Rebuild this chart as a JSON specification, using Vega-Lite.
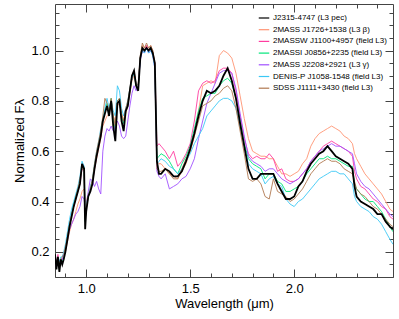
{
"$schema":"https://vega.github.io/schema/vega-lite/v6.json",
"width":338,"height":273,
"autosize":{"type":"none"},
"padding":{"left":55,"top":4,"right":6,"bottom":42},
"background":"white",
"config":{"view":{"stroke":"#444","strokeWidth":1},"font":"Liberation Sans"},
"data":{"values":[
{"w":0.85,"a":0.19,"b":0.17,"c":0.18,"d":0.18,"e":0.16,"f":0.17,"g":0.17},
{"w":0.857,"a":0.13,"b":0.15,"c":0.16,"d":0.15,"e":0.14,"f":0.15,"g":0.15},
{"w":0.864,"a":0.18,"b":0.18,"c":0.19,"d":0.17,"e":0.16,"f":0.18,"g":0.18},
{"w":0.871,"a":0.12,"b":0.16,"c":0.15,"d":0.14,"e":0.15,"f":0.16,"g":0.15},
{"w":0.878,"a":0.17,"b":0.17,"c":0.17,"d":0.17,"e":0.16,"f":0.18,"g":0.17},
{"w":0.885,"a":0.15,"b":0.17,"c":0.17,"d":0.16,"e":0.17,"f":0.18,"g":0.18},
{"w":0.892,"a":0.17,"b":0.18,"c":0.18,"d":0.18,"e":0.19,"f":0.2,"g":0.19},
{"w":0.9,"a":0.2,"b":0.2,"c":0.21,"d":0.21,"e":0.21,"f":0.23,"g":0.22},
{"w":0.91,"a":0.25,"b":0.24,"c":0.26,"d":0.26,"e":0.25,"f":0.28,"g":0.26},
{"w":0.92,"a":0.3,"b":0.28,"c":0.31,"d":0.31,"e":0.29,"f":0.33,"g":0.31},
{"w":0.93,"a":0.34,"b":0.31,"c":0.35,"d":0.35,"e":0.31,"f":0.37,"g":0.35},
{"w":0.94,"a":0.38,"b":0.33,"c":0.38,"d":0.39,"e":0.33,"f":0.4,"g":0.38},
{"w":0.95,"a":0.41,"b":0.36,"c":0.41,"d":0.42,"e":0.35,"f":0.43,"g":0.42},
{"w":0.96,"a":0.44,"b":0.39,"c":0.44,"d":0.45,"e":0.36,"f":0.46,"g":0.45},
{"w":0.97,"a":0.47,"b":0.41,"c":0.47,"d":0.48,"e":0.38,"f":0.5,"g":0.49},
{"w":0.98,"a":0.55,"b":0.44,"c":0.53,"d":0.54,"e":0.42,"f":0.56,"g":0.54},
{"w":0.99,"a":0.53,"b":0.45,"c":0.52,"d":0.52,"e":0.41,"f":0.54,"g":0.52},
{"w":0.995,"a":0.29,"b":0.4,"c":0.33,"d":0.32,"e":0.37,"f":0.35,"g":0.35},
{"w":1.0,"a":0.36,"b":0.4,"c":0.37,"d":0.37,"e":0.38,"f":0.39,"g":0.38},
{"w":1.01,"a":0.42,"b":0.43,"c":0.42,"d":0.42,"e":0.44,"f":0.42,"g":0.42},
{"w":1.02,"a":0.44,"b":0.46,"c":0.45,"d":0.45,"e":0.49,"f":0.46,"g":0.45},
{"w":1.03,"a":0.47,"b":0.48,"c":0.47,"d":0.48,"e":0.48,"f":0.49,"g":0.49},
{"w":1.04,"a":0.53,"b":0.53,"c":0.53,"d":0.54,"e":0.46,"f":0.55,"g":0.55},
{"w":1.05,"a":0.58,"b":0.57,"c":0.58,"d":0.59,"e":0.48,"f":0.6,"g":0.6},
{"w":1.06,"a":0.62,"b":0.61,"c":0.62,"d":0.63,"e":0.45,"f":0.64,"g":0.64},
{"w":1.07,"a":0.66,"b":0.65,"c":0.66,"d":0.67,"e":0.43,"f":0.69,"g":0.68},
{"w":1.08,"a":0.72,"b":0.7,"c":0.72,"d":0.72,"e":0.6,"f":0.73,"g":0.74},
{"w":1.09,"a":0.75,"b":0.72,"c":0.76,"d":0.76,"e":0.66,"f":0.77,"g":0.81},
{"w":1.1,"a":0.78,"b":0.74,"c":0.78,"d":0.79,"e":0.69,"f":0.81,"g":0.79},
{"w":1.11,"a":0.74,"b":0.75,"c":0.75,"d":0.76,"e":0.68,"f":0.77,"g":0.76},
{"w":1.12,"a":0.8,"b":0.78,"c":0.8,"d":0.81,"e":0.7,"f":0.8,"g":0.81},
{"w":1.13,"a":0.7,"b":0.74,"c":0.73,"d":0.73,"e":0.68,"f":0.76,"g":0.74},
{"w":1.14,"a":0.64,"b":0.72,"c":0.69,"d":0.68,"e":0.7,"f":0.74,"g":0.7},
{"w":1.15,"a":0.79,"b":0.78,"c":0.8,"d":0.8,"e":0.72,"f":0.86,"g":0.8},
{"w":1.16,"a":0.8,"b":0.79,"c":0.81,"d":0.81,"e":0.7,"f":0.84,"g":0.81},
{"w":1.17,"a":0.72,"b":0.75,"c":0.74,"d":0.74,"e":0.66,"f":0.77,"g":0.75},
{"w":1.18,"a":0.68,"b":0.72,"c":0.71,"d":0.71,"e":0.65,"f":0.74,"g":0.72},
{"w":1.19,"a":0.76,"b":0.75,"c":0.76,"d":0.76,"e":0.66,"f":0.77,"g":0.77},
{"w":1.2,"a":0.78,"b":0.78,"c":0.79,"d":0.79,"e":0.72,"f":0.8,"g":0.8},
{"w":1.21,"a":0.84,"b":0.83,"c":0.84,"d":0.84,"e":0.78,"f":0.85,"g":0.85},
{"w":1.22,"a":0.9,"b":0.88,"c":0.89,"d":0.89,"e":0.83,"f":0.89,"g":0.9},
{"w":1.23,"a":0.92,"b":0.9,"c":0.91,"d":0.91,"e":0.86,"f":0.91,"g":0.92},
{"w":1.24,"a":0.86,"b":0.86,"c":0.86,"d":0.86,"e":0.84,"f":0.87,"g":0.87},
{"w":1.25,"a":0.84,"b":0.87,"c":0.85,"d":0.85,"e":0.86,"f":0.86,"g":0.86},
{"w":1.26,"a":0.97,"b":0.97,"c":0.97,"d":0.97,"e":0.96,"f":0.97,"g":0.98},
{"w":1.27,"a":1.01,"b":1.02,"c":1.01,"d":1.01,"e":1.0,"f":1.0,"g":1.03},
{"w":1.28,"a":1.0,"b":1.01,"c":1.0,"d":1.0,"e":0.99,"f":0.99,"g":1.01},
{"w":1.29,"a":1.01,"b":1.02,"c":1.02,"d":1.01,"e":1.01,"f":1.01,"g":1.03},
{"w":1.3,"a":1.0,"b":1.01,"c":1.0,"d":1.0,"e":0.99,"f":0.99,"g":1.01},
{"w":1.31,"a":1.01,"b":1.02,"c":1.01,"d":1.01,"e":1.0,"f":1.0,"g":1.02},
{"w":1.32,"a":0.99,"b":1.0,"c":0.99,"d":0.99,"e":0.98,"f":0.98,"g":1.0},
{"w":1.33,"a":0.95,"b":0.95,"c":0.95,"d":0.94,"e":0.93,"f":0.93,"g":0.94},
{"w":1.34,"a":0.56,"b":0.56,"c":0.62,"d":0.57,"e":0.52,"f":0.55,"g":0.53},
{"w":1.35,"a":0.51,"b":0.55,"c":0.63,"d":0.58,"e":0.5,"f":0.56,"g":0.52},
{"w":1.36,"a":0.51,"b":0.55,"c":0.62,"d":0.59,"e":0.49,"f":0.57,"g":0.52},
{"w":1.38,"a":0.53,"b":0.53,"c":0.6,"d":0.58,"e":0.51,"f":0.56,"g":0.53},
{"w":1.4,"a":0.52,"b":0.51,"c":0.57,"d":0.56,"e":0.45,"f":0.54,"g":0.51},
{"w":1.42,"a":0.5,"b":0.5,"c":0.6,"d":0.53,"e":0.46,"f":0.53,"g":0.49},
{"w":1.44,"a":0.5,"b":0.49,"c":0.54,"d":0.51,"e":0.47,"f":0.51,"g":0.49},
{"w":1.46,"a":0.52,"b":0.52,"c":0.56,"d":0.55,"e":0.49,"f":0.53,"g":0.53},
{"w":1.48,"a":0.56,"b":0.55,"c":0.59,"d":0.58,"e":0.5,"f":0.56,"g":0.57},
{"w":1.5,"a":0.61,"b":0.6,"c":0.63,"d":0.62,"e":0.53,"f":0.59,"g":0.6},
{"w":1.52,"a":0.67,"b":0.66,"c":0.72,"d":0.69,"e":0.57,"f":0.63,"g":0.66},
{"w":1.54,"a":0.74,"b":0.76,"c":0.84,"d":0.76,"e":0.65,"f":0.66,"g":0.72},
{"w":1.56,"a":0.8,"b":0.86,"c":0.87,"d":0.81,"e":0.72,"f":0.69,"g":0.78},
{"w":1.58,"a":0.84,"b":0.87,"c":0.88,"d":0.82,"e":0.79,"f":0.74,"g":0.79},
{"w":1.6,"a":0.83,"b":0.88,"c":0.87,"d":0.83,"e":0.83,"f":0.76,"g":0.8},
{"w":1.62,"a":0.84,"b":0.87,"c":0.88,"d":0.83,"e":0.87,"f":0.78,"g":0.82},
{"w":1.64,"a":0.86,"b":0.98,"c":0.92,"d":0.86,"e":0.91,"f":0.8,"g":0.83},
{"w":1.66,"a":0.9,"b":1.0,"c":0.93,"d":0.88,"e":0.92,"f":0.81,"g":0.85},
{"w":1.68,"a":0.93,"b":0.99,"c":0.93,"d":0.89,"e":0.92,"f":0.81,"g":0.86},
{"w":1.7,"a":0.88,"b":0.97,"c":0.91,"d":0.87,"e":0.91,"f":0.8,"g":0.84},
{"w":1.72,"a":0.81,"b":0.91,"c":0.84,"d":0.81,"e":0.85,"f":0.77,"g":0.77},
{"w":1.74,"a":0.71,"b":0.82,"c":0.74,"d":0.72,"e":0.75,"f":0.7,"g":0.68},
{"w":1.76,"a":0.62,"b":0.73,"c":0.65,"d":0.63,"e":0.66,"f":0.62,"g":0.59},
{"w":1.78,"a":0.53,"b":0.65,"c":0.59,"d":0.57,"e":0.58,"f":0.55,"g":0.49},
{"w":1.8,"a":0.49,"b":0.6,"c":0.57,"d":0.55,"e":0.56,"f":0.53,"g":0.48},
{"w":1.82,"a":0.49,"b":0.59,"c":0.58,"d":0.54,"e":0.55,"f":0.52,"g":0.49},
{"w":1.84,"a":0.51,"b":0.58,"c":0.57,"d":0.53,"e":0.54,"f":0.51,"g":0.47},
{"w":1.86,"a":0.51,"b":0.58,"c":0.57,"d":0.49,"e":0.52,"f":0.47,"g":0.42},
{"w":1.88,"a":0.51,"b":0.57,"c":0.59,"d":0.51,"e":0.53,"f":0.49,"g":0.41},
{"w":1.9,"a":0.51,"b":0.57,"c":0.57,"d":0.51,"e":0.53,"f":0.5,"g":0.49},
{"w":1.92,"a":0.47,"b":0.54,"c":0.52,"d":0.48,"e":0.51,"f":0.47,"g":0.44},
{"w":1.94,"a":0.44,"b":0.51,"c":0.53,"d":0.47,"e":0.49,"f":0.46,"g":0.43},
{"w":1.96,"a":0.41,"b":0.51,"c":0.49,"d":0.44,"e":0.48,"f":0.41,"g":0.42},
{"w":1.98,"a":0.41,"b":0.5,"c":0.48,"d":0.44,"e":0.47,"f":0.39,"g":0.4},
{"w":2.0,"a":0.42,"b":0.51,"c":0.48,"d":0.45,"e":0.48,"f":0.38,"g":0.41},
{"w":2.02,"a":0.46,"b":0.52,"c":0.49,"d":0.46,"e":0.49,"f":0.4,"g":0.43},
{"w":2.04,"a":0.48,"b":0.55,"c":0.51,"d":0.48,"e":0.51,"f":0.41,"g":0.45},
{"w":2.06,"a":0.52,"b":0.57,"c":0.53,"d":0.51,"e":0.53,"f":0.43,"g":0.48},
{"w":2.08,"a":0.55,"b":0.62,"c":0.56,"d":0.53,"e":0.56,"f":0.45,"g":0.51},
{"w":2.1,"a":0.57,"b":0.65,"c":0.58,"d":0.55,"e":0.58,"f":0.47,"g":0.53},
{"w":2.12,"a":0.59,"b":0.67,"c":0.6,"d":0.57,"e":0.6,"f":0.49,"g":0.55},
{"w":2.14,"a":0.6,"b":0.68,"c":0.62,"d":0.57,"e":0.61,"f":0.5,"g":0.56},
{"w":2.16,"a":0.62,"b":0.69,"c":0.63,"d":0.58,"e":0.62,"f":0.51,"g":0.57},
{"w":2.18,"a":0.6,"b":0.7,"c":0.64,"d":0.57,"e":0.63,"f":0.52,"g":0.56},
{"w":2.2,"a":0.58,"b":0.69,"c":0.63,"d":0.57,"e":0.62,"f":0.52,"g":0.56},
{"w":2.22,"a":0.57,"b":0.68,"c":0.62,"d":0.56,"e":0.62,"f":0.51,"g":0.55},
{"w":2.24,"a":0.56,"b":0.66,"c":0.61,"d":0.55,"e":0.61,"f":0.51,"g":0.53},
{"w":2.26,"a":0.55,"b":0.65,"c":0.6,"d":0.54,"e":0.6,"f":0.49,"g":0.52},
{"w":2.28,"a":0.53,"b":0.63,"c":0.58,"d":0.54,"e":0.59,"f":0.47,"g":0.51},
{"w":2.29,"a":0.46,"b":0.59,"c":0.52,"d":0.47,"e":0.55,"f":0.42,"g":0.48},
{"w":2.3,"a":0.42,"b":0.57,"c":0.49,"d":0.45,"e":0.51,"f":0.4,"g":0.45},
{"w":2.32,"a":0.4,"b":0.54,"c":0.46,"d":0.43,"e":0.48,"f":0.38,"g":0.43},
{"w":2.34,"a":0.39,"b":0.51,"c":0.45,"d":0.41,"e":0.46,"f":0.37,"g":0.42},
{"w":2.36,"a":0.38,"b":0.49,"c":0.43,"d":0.4,"e":0.45,"f":0.36,"g":0.4},
{"w":2.38,"a":0.37,"b":0.47,"c":0.41,"d":0.4,"e":0.43,"f":0.34,"g":0.38},
{"w":2.4,"a":0.35,"b":0.45,"c":0.4,"d":0.38,"e":0.41,"f":0.33,"g":0.37},
{"w":2.42,"a":0.35,"b":0.43,"c":0.38,"d":0.36,"e":0.39,"f":0.31,"g":0.35},
{"w":2.44,"a":0.32,"b":0.4,"c":0.37,"d":0.33,"e":0.37,"f":0.28,"g":0.33},
{"w":2.46,"a":0.3,"b":0.37,"c":0.34,"d":0.3,"e":0.35,"f":0.25,"g":0.31},
{"w":2.475,"a":0.29,"b":0.36,"c":0.33,"d":0.28,"e":0.34,"f":0.23,"g":0.3}
]},
"transform":[
{"fold":["b","c","d","e","f","g","a"],"as":["key","flux"]},
{"lookup":"key","from":{"data":{"values":[
{"key":"a","name":"J2315-4747 (L3 pec)"},
{"key":"b","name":"2MASS J1726+1538 (L3 β)"},
{"key":"c","name":"2MASSW J1100+4957 (field L3)"},
{"key":"d","name":"2MASSI J0856+2235 (field L3)"},
{"key":"e","name":"2MASS J2208+2921 (L3 γ)"},
{"key":"f","name":"DENIS-P J1058-1548 (field L3)"},
{"key":"g","name":"SDSS J1111+3430 (field L3)"}
]},"key":"key","fields":["name"]}}
],
"layer":[
{"transform":[{"filter":"datum.key != 'a'"}],
 "mark":{"type":"line","strokeWidth":0.9,"clip":true},
 "encoding":{
  "x":{"field":"w","type":"quantitative","scale":{"domain":[0.85,2.475],"nice":false,"zero":false},
   "axis":{"orient":"bottom","values":[0.9,1,1.1,1.2,1.3,1.4,1.5,1.6,1.7,1.8,1.9,2,2.1,2.2,2.3,2.4],
    "labelExpr":"abs(datum.value*2-round(datum.value*2))<0.000001 ? format(datum.value,'.1f') : ''",
    "tickSize":{"condition":{"test":"abs(datum.value*2-round(datum.value*2))<0.000001","value":-8},"value":-4},
    "tickColor":"#444","domain":false,"grid":false,"labelFontSize":13,"labelColor":"#000","labelPadding":13,
    "title":"Wavelength (μm)","titleFontSize":13,"titleFontWeight":"normal","titleColor":"#000","titlePadding":2}},
  "y":{"field":"flux","type":"quantitative","scale":{"domain":[0.1,1.185],"nice":false,"zero":false},
   "axis":{"orient":"left","values":[0.1,0.15,0.2,0.25,0.3,0.35,0.4,0.45,0.5,0.55,0.6,0.65,0.7,0.75,0.8,0.85,0.9,0.95,1,1.05,1.1,1.15],
    "labelExpr":"abs(datum.value*5-round(datum.value*5))<0.000001 && datum.value>0.15 ? format(datum.value,'.1f') : ''",
    "tickSize":{"condition":{"test":"abs(datum.value*5-round(datum.value*5))<0.000001","value":-8},"value":-4},
    "tickColor":"#444","domain":false,"grid":false,"labelFontSize":13,"labelColor":"#000","labelPadding":14,
    "title":"Normalized Fλ","titleFontSize":13,"titleFontWeight":"normal","titleColor":"#000","titlePadding":4}},
  "color":{"field":"name","type":"nominal",
   "scale":{"domain":["J2315-4747 (L3 pec)","2MASS J1726+1538 (L3 β)","2MASSW J1100+4957 (field L3)","2MASSI J0856+2235 (field L3)","2MASS J2208+2921 (L3 γ)","DENIS-P J1058-1548 (field L3)","SDSS J1111+3430 (field L3)"],
    "range":["#000000","#FF9473","#FF3CA0","#00E67A","#A050FF","#3CC8F5","#B07850"]},
   "legend":{"orient":"none","legendX":203,"legendY":8,"title":null,"symbolType":"stroke","symbolSize":110,"symbolStrokeWidth":1.2,
    "labelFontSize":8,"labelFont":"Liberation Sans","labelColor":"#000","rowPadding":1.7,"labelOffset":3,"padding":0}}
 }},
{"transform":[{"filter":"datum.key == 'a'"}],
 "mark":{"type":"line","strokeWidth":1.8,"clip":true},
 "encoding":{
  "x":{"field":"w","type":"quantitative",
   "axis":{"orient":"top","values":[0.9,1,1.1,1.2,1.3,1.4,1.5,1.6,1.7,1.8,1.9,2,2.1,2.2,2.3,2.4],"labels":false,
    "tickSize":{"condition":{"test":"abs(datum.value*2-round(datum.value*2))<0.000001","value":-8},"value":-4},
    "tickColor":"#444","domain":false,"grid":false,"title":null}},
  "y":{"field":"flux","type":"quantitative",
   "axis":{"orient":"right","values":[0.1,0.15,0.2,0.25,0.3,0.35,0.4,0.45,0.5,0.55,0.6,0.65,0.7,0.75,0.8,0.85,0.9,0.95,1,1.05,1.1,1.15],"labels":false,
    "tickSize":{"condition":{"test":"abs(datum.value*5-round(datum.value*5))<0.000001","value":-8},"value":-4},
    "tickColor":"#444","domain":false,"grid":false,"title":null}},
  "color":{"field":"name","type":"nominal"}
 }}
],
"resolve":{"axis":{"x":"independent","y":"independent"}}
}
